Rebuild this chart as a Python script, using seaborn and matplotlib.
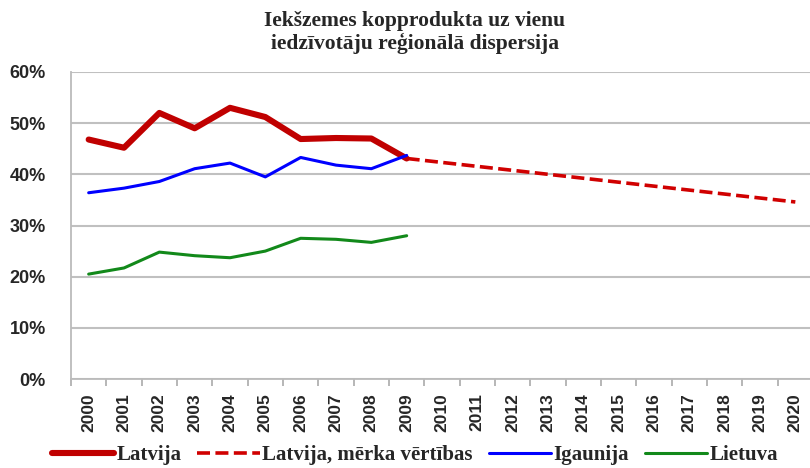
import matplotlib
matplotlib.use("Agg")
import matplotlib.pyplot as plt
import seaborn as sns
import pandas as pd
from matplotlib.ticker import FuncFormatter, MultipleLocator

years = list(range(2000, 2010))
latvija = [46.8, 45.2, 52.0, 49.0, 53.0, 51.2, 46.9, 47.1, 47.0, 43.1]
igaunija = [36.4, 37.3, 38.6, 41.1, 42.2, 39.5, 43.3, 41.8, 41.1, 43.7]
lietuva = [20.5, 21.7, 24.8, 24.1, 23.7, 25.0, 27.5, 27.3, 26.7, 28.0]
target_years = [2009, 2020]
target_values = [43.1, 34.6]
all_years = list(range(2000, 2021))

title = "Iekšzemes kopprodukta uz vienu\niedzīvotāju reģionālā dispersija"
labels = ["Latvija", "Latvija, mērka vērtības", "Igaunija", "Lietuva"]

sns.set_style("white")
plt.rcParams["font.family"] = ["Liberation Sans", "DejaVu Sans"]

fig = plt.figure(figsize=(8.1, 4.68), dpi=100)
ax = fig.add_axes([71 / 810, 89 / 468, 742 / 810, 307 / 468])

df_lv = pd.DataFrame({"year": years, "value": latvija})
df_ee = pd.DataFrame({"year": years, "value": igaunija})
df_lt = pd.DataFrame({"year": years, "value": lietuva})
df_tg = pd.DataFrame({"year": target_years, "value": target_values})

sns.lineplot(data=df_lv, x="year", y="value", ax=ax, color="#C00000", lw=4.4,
             label=labels[0], zorder=4)
sns.lineplot(data=df_tg, x="year", y="value", ax=ax, color="#D00000", lw=2.6,
             label=labels[1], zorder=3)
ax.lines[-1].set_linestyle((0, (3.6, 1.5)))
sns.lineplot(data=df_ee, x="year", y="value", ax=ax, color="#0000FF", lw=2.2,
             label=labels[2], zorder=5)
sns.lineplot(data=df_lt, x="year", y="value", ax=ax, color="#12891A", lw=2.2,
             label=labels[3], zorder=4)

ax.set_xlim(1999.5, 2020.5)
ax.set_ylim(0, 60)
ax.yaxis.set_major_locator(MultipleLocator(10))
ax.yaxis.set_major_formatter(FuncFormatter(lambda v, p: f"{int(v)}%"))
ax.set_xticks(all_years)
ax.set_xticklabels([str(y) for y in all_years], rotation=90, fontweight="bold",
                   fontsize=12.5)
ax.set_xticks([y + 0.5 for y in all_years[:-1]] + [1999.5], minor=True)
ax.tick_params(axis="x", which="major", length=0, pad=10)
ax.tick_params(axis="x", which="minor", length=5, color="#aaaaaa", width=1.2,
               direction="out", bottom=True)
ax.tick_params(axis="y", length=0, pad=18, labelsize=13)
for t in ax.get_yticklabels():
    t.set_fontweight("bold")
ax.set_xlabel("")
ax.set_ylabel("")
ax.grid(axis="y", color="#c0c0c0", lw=1.5)
ax.set_axisbelow(True)
for s in ["top", "right"]:
    ax.spines[s].set_visible(False)
for s in ["left", "bottom"]:
    ax.spines[s].set_color("#bbbbbb")
    ax.spines[s].set_linewidth(1.3)

fig.text(0.512, 0.977, title, ha="center", va="top", fontsize=15.5,
         fontweight="bold", family="Liberation Serif", linespacing=1.12)

handles, lbls = ax.get_legend_handles_labels()
leg = ax.legend(handles, lbls, ncol=4, loc="center", bbox_to_anchor=(415 / 810, 13 / 468),
                bbox_transform=fig.transFigure, frameon=False,
                prop={"family": "Liberation Serif", "size": 15, "weight": "bold"},
                handlelength=3.0, handletextpad=0.12, columnspacing=0.75,
                borderaxespad=0, borderpad=0)

fig.savefig("out.png", dpi=100)
